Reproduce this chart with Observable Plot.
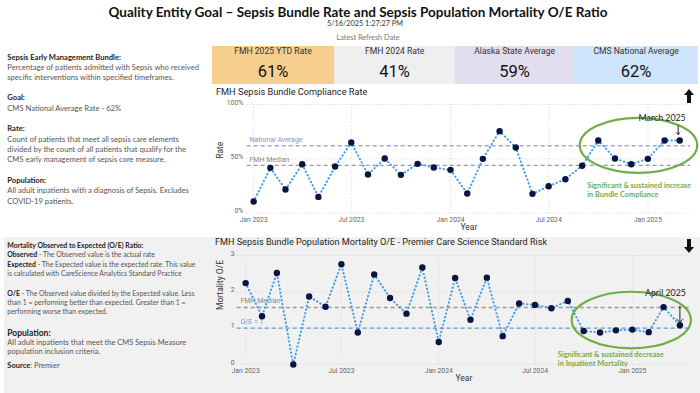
<!DOCTYPE html>
<html><head><meta charset="utf-8">
<script src="https://cdn.jsdelivr.net/npm/d3@7"></script>
<script src="https://cdn.jsdelivr.net/npm/@observablehq/plot@0.6"></script>
<style>
html,body{margin:0;padding:0;}
body{width:700px;height:393px;overflow:hidden;position:relative;background:#fff;font-family:Lato,"Open Sans",sans-serif;color:#333;}
.abs{position:absolute;white-space:nowrap;}
.din{font-family:Roboto,"DejaVu Sans",sans-serif;}
.para b{color:#222;}
.para{color:#555;}
</style></head><body>
<script>
// ---------- data ----------
const months = ["2023-01","2023-02","2023-03","2023-04","2023-05","2023-06","2023-07","2023-08","2023-09","2023-10","2023-11","2023-12",
                "2024-01","2024-02","2024-03","2024-04","2024-05","2024-06","2024-07","2024-08","2024-09","2024-10","2024-11","2024-12",
                "2025-01","2025-02","2025-03","2025-04"];
const bundleRate = [10.7, 41.7, 21.8, 45.1, 15.0, 42.9, 65.0, 35.6, 50.3, 35.3, 45.4, 42.0,
                    39.9, 18.1, 50.0, 75.5, 60.4, 17.8, 24.8, 31.3, 43.6, 66.9, 50.3, 45.1,
                    50.0, 66.9, 66.9];
const mortalityOE = [2.24, 1.33, 2.52, 0.00, 1.87, 1.59, 2.76, 0.88, 2.48, 1.83, 1.40, 2.67,
                     0.62, 2.38, 1.23, 2.39, 0.78, 1.68, 1.64, 1.55, 1.75, 0.92, 0.88, 0.94,
                     0.96, 0.89, 1.58, 1.08];
const xTickMonths = ["2023-01","2023-07","2024-01","2024-07","2025-01"];
const bundleYTicks = [0, 50, 100];
const mortalityYTicks = [0, 1, 2, 3];
const bundleRefValues = [62, 44];
const bundleRefLabels = ["National Average", "FMH Median"];
const mortalityRefValues = [1.57, 1];
const mortalityRefLabels = ["FMH Median", "O/E = 1"];
const kpiLabels = ["FMH 2025 YTD Rate", "FMH 2024 Rate", "Alaska State Average", "CMS National Average"];
const kpiValues = [61, 41, 59, 62];

// ---------- helpers ----------
function addDiv(html, style, cls) {
  const d = document.createElement("div");
  d.className = "abs " + (cls || "");
  d.innerHTML = html;
  Object.assign(d.style, style);
  document.body.appendChild(d);
  return d;
}
const parse = d3.utcParse("%Y-%m");
const bundleData = bundleRate.map((v, i) => ({date: parse(months[i]), value: v}));
const mortalityData = mortalityOE.map((v, i) => ({date: parse(months[i]), value: v}));
const xTicks = xTickMonths.map(parse);
const fmtTick = d3.utcFormat("%b %Y");
const gridStyle = {stroke: "#cfcfcf", strokeOpacity: 1, strokeWidth: 0.8, strokeDasharray: "1,2"};
const green = "#70ad47";
const lineStyle = {stroke: "#3d9de8", strokeWidth: 2, strokeDasharray: "0.4,3.4", strokeLinecap: "round"};

function ellipseMark(from, to, level, padX, ry) {
  return (index, scales) => {
    const x1 = scales.x(parse(from)), x2 = scales.x(parse(to));
    return d3.create("svg:ellipse")
      .attr("cx", (x1 + x2) / 2).attr("cy", scales.y(level))
      .attr("rx", (x2 - x1) / 2 + padX).attr("ry", ry)
      .attr("fill", "none").attr("stroke", green).attr("stroke-width", 2.2).node();
  };
}

// ---------- backgrounds ----------
addDiv("", {left: "4px", top: "237px", width: "696px", height: "156px", background: "#f1f1f1"});

// ---------- header ----------
addDiv("Quality Entity Goal – Sepsis Bundle Rate and Sepsis Population Mortality O/E Ratio",
  {left: "358px", top: "4px", transform: "translateX(-50%)", fontSize: "13.5px", fontWeight: "700", lineHeight: "16px", color: "#111"});
addDiv("5/16/2025 1:27:27 PM", {left: "365px", top: "18.5px", transform: "translateX(-50%)", fontSize: "7.3px", lineHeight: "10px", color: "#333"});
addDiv("Latest Refresh Date", {left: "368px", top: "32.5px", transform: "translateX(-50%)", fontSize: "7.3px", lineHeight: "10px", color: "#777"});

// ---------- KPI cards ----------
const cardEdges = [211.7, 334.3, 455, 574.3, 698];
const cardColors = ["#f6cf8e", "#efefef", "#e3ddf0", "#cfe5fb"];
kpiLabels.forEach((lab, i) => {
  const w = cardEdges[i + 1] - cardEdges[i];
  addDiv("", {left: cardEdges[i] + "px", top: "46px", width: w + "px", height: "38.3px", background: cardColors[i]});
  addDiv(lab, {left: cardEdges[i] + "px", top: "46px", width: w + "px", textAlign: "center", fontSize: "8.6px", lineHeight: "10px", color: "#333"}, "din");
  addDiv(kpiValues[i] + "%", {left: cardEdges[i] + "px", top: "62px", width: w + "px", textAlign: "center", fontSize: "16.5px", lineHeight: "20px", color: "#111"}, "din");
});

// ---------- left text panels ----------
const p = (html, top, size, lh) => addDiv(html, {left: "7.3px", top: top + "px", fontSize: size + "px", lineHeight: lh + "px"}, "para");
p("<b>Sepsis Early Management Bundle:</b><br>Percentage of patients admitted with Sepsis who received<br>specific interventions within specified timeframes.", 51.5, 7.6, 10.4);
p("<b>Goal:</b><br>CMS National Average Rate - 62%", 92.1, 7.6, 10.4);
p("<b>Rate:</b><br>Count of patients that meet all sepsis care elements<br>divided by the count of all patients that qualify for the<br>CMS early management of sepsis core measure.", 123.1, 7.6, 10.4);
p("<b>Population:</b><br>All adult inpatients with a diagnosis of Sepsis. Excludes<br>COVID-19 patients.", 174.8, 7.6, 10.4);

p("<b>Mortality Observed to Expected (O/E) Ratio:</b><br><b>Observed</b> - The Observed value is the actual rate<br><b>Expected</b> - The Expected value is the expected rate. This value<br>is calculated with CareScience Analytics Standard Practice", 241.1, 6.9, 9.2);
p("<b>O/E</b> - The Observed value divided by the Expected value. Less<br>than 1 = performing better than expected. Greater than 1 =<br>performing worse than expected.", 288.7, 6.9, 9.2);
p("<b style='font-size:8.5px'>Population:</b><br>All adult inpatients that meet the CMS Sepsis Measure<br>population inclusion criteria.", 328.8, 7.5, 9);
p("<b>Source</b>: Premier", 360.5, 7.5, 9);

// ---------- chart titles & icons ----------
addDiv("FMH Sepsis Bundle Compliance Rate", {left: "216px", top: "85.5px", fontSize: "9.2px", lineHeight: "11px", color: "#252423"}, "din");
addDiv("FMH Sepsis Bundle Population Mortality O/E - Premier Care Science Standard Risk", {left: "215px", top: "236.5px", fontSize: "9.1px", lineHeight: "11px", color: "#252423"}, "din");
addDiv('<svg width="10" height="14"><polygon points="5,0 10,6 7,6 7,14 3,14 3,6 0,6" fill="#111"/></svg>', {left: "684px", top: "87px"});
addDiv('<svg width="10" height="14"><polygon points="5,14 10,8 7,8 7,0 3,0 3,8 0,8" fill="#111"/></svg>', {left: "684px", top: "237px"});

// ---------- top chart ----------
const topChart = Plot.plot({
  width: 490, height: 140,
  marginLeft: 36.7, marginRight: 10, marginTop: 7, marginBottom: 24.3,
  style: {background: "transparent", fontFamily: "Roboto, sans-serif", overflow: "visible"},
  x: {type: "utc", domain: [new Date(Date.UTC(2022, 11, 20)), new Date(Date.UTC(2025, 2, 21))]},
  y: {domain: [0, 100]},
  marks: [
    Plot.gridX(xTicks, gridStyle),
    Plot.gridY(bundleYTicks, gridStyle),
    Plot.axisX(xTicks, {tickSize: 0, tickPadding: 3.5, tickFormat: fmtTick, fontSize: 6.8, color: "#666", label: null}),
    Plot.axisY(bundleYTicks, {tickSize: 0, tickPadding: 4, tickFormat: d => d + "%", fontSize: 6.8, color: "#666", label: null, dy: -2}),
    Plot.ruleY([bundleRefValues[0]], {stroke: "#a3a3e6", strokeWidth: 1.4, strokeDasharray: "4,3"}),
    Plot.ruleY([bundleRefValues[1]], {stroke: "#9a9a9a", strokeWidth: 1.4, strokeDasharray: "4,3"}),
    Plot.text(bundleRefValues, {y: d => d, frameAnchor: "left", text: (d, i) => bundleRefLabels[i], fill: (d, i) => ["#8f8fd0", "#888888"][i], textAnchor: "start", dx: 2.3, dy: -6, fontSize: 7}),
    Plot.line(bundleData, {x: "date", y: "value", ...lineStyle}),
    Plot.dot(bundleData, {x: "date", y: "value", r: 3.2, fill: "#0b1442", stroke: "none"}),
    ellipseMark("2024-10", "2025-03", 62, 18, 27.5),
    Plot.text(bundleData.slice(-1), {x: "date", y: "value", text: () => "March 2025", textAnchor: "end", dx: 6, dy: -22, fontSize: 8.8, fill: "#222", fontFamily: "Lato, sans-serif"}),
    Plot.vector(bundleData.slice(-1), {x: "date", y: "value", length: 8.5, rotate: 180, anchor: "end", dx: -1.5, dy: -6, stroke: "#222", strokeWidth: 1}),
    Plot.text(["Significant & sustained increase\nin Bundle Compliance"], {text: d => d, frameAnchor: "bottom-right", textAnchor: "start", lineAnchor: "top", dx: -103.3, dy: -31.7, fill: green, fontWeight: "bold", fontSize: 7.4, lineHeight: 1.22, fontFamily: "Lato, sans-serif"}),
    Plot.text(["Year"], {text: d => d, frameAnchor: "bottom", dy: 17, fontSize: 8.5, fill: "#333"}),
    Plot.text(["Rate"], {text: d => d, frameAnchor: "left", rotate: -90, dx: -26.7, fontSize: 8.5, fill: "#333"})
  ]
});
Object.assign(topChart.style, {position: "absolute", left: "210px", top: "97px"});
document.body.appendChild(topChart);

// ---------- bottom chart ----------
const bottomChart = Plot.plot({
  width: 490, height: 147,
  marginLeft: 26.7, marginRight: 10, marginTop: 9, marginBottom: 29,
  style: {background: "transparent", fontFamily: "Roboto, sans-serif", overflow: "visible"},
  x: {type: "utc", domain: [new Date(Date.UTC(2022, 11, 16)), new Date(Date.UTC(2025, 3, 21))]},
  y: {domain: [0, 3]},
  marks: [
    Plot.gridX(xTicks, gridStyle),
    Plot.gridY(mortalityYTicks, gridStyle),
    Plot.axisX(xTicks, {tickSize: 0, tickPadding: 3.5, tickFormat: fmtTick, fontSize: 6.8, color: "#666", label: null}),
    Plot.axisY(mortalityYTicks, {tickSize: 0, tickPadding: 2.5, tickFormat: d => String(d), fontSize: 6.8, color: "#666", label: null, dy: -2}),
    Plot.ruleY([mortalityRefValues[0]], {stroke: "#9a9a9a", strokeWidth: 1.4, strokeDasharray: "4,3"}),
    Plot.ruleY([mortalityRefValues[1]], {stroke: "#5b9bd5", strokeWidth: 1.4, strokeDasharray: "4,3"}),
    Plot.text(mortalityRefValues, {y: d => d, frameAnchor: "left", text: (d, i) => mortalityRefLabels[i], fill: (d, i) => ["#888888", "#5b9bd5"][i], textAnchor: "start", dx: 3.3, dy: -6.5, fontSize: 7}),
    Plot.line(mortalityData, {x: "date", y: "value", ...lineStyle}),
    Plot.dot(mortalityData, {x: "date", y: "value", r: 3.2, fill: "#0b1442", stroke: "none"}),
    ellipseMark("2024-10", "2025-04", 1.21, 11.5, 28.3),
    Plot.text(mortalityData.slice(-1), {x: "date", y: "value", text: () => "April 2025", textAnchor: "end", dx: 6, dy: -32.5, fontSize: 8.8, fill: "#222", fontFamily: "Lato, sans-serif"}),
    Plot.vector(mortalityData.slice(-1), {x: "date", y: "value", length: 16, rotate: 180, anchor: "end", dx: 0, dy: -3, stroke: "#222", strokeWidth: 1}),
    Plot.text(["Significant & sustained decrease\nin Inpatient Mortality"], {text: d => d, frameAnchor: "bottom-right", textAnchor: "start", lineAnchor: "top", dx: -132.7, dy: -14, fill: green, fontWeight: "bold", fontSize: 7.4, lineHeight: 1.22, fontFamily: "Lato, sans-serif"}),
    Plot.text(["Year"], {text: d => d, frameAnchor: "bottom", dy: 16.6, fontSize: 8.5, fill: "#333"}),
    Plot.text(["Mortality O/E"], {text: d => d, frameAnchor: "left", rotate: -90, dx: -16.7, fontSize: 8.5, fill: "#333"})
  ]
});
Object.assign(bottomChart.style, {position: "absolute", left: "210px", top: "246px"});
document.body.appendChild(bottomChart);
</script>
</body></html>
